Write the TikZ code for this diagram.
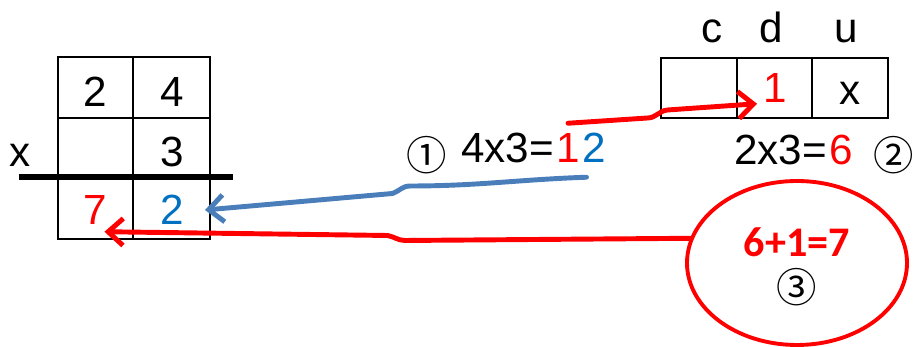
\documentclass[tikz,border=0pt]{standalone}
\usepackage{fontspec}
\setmainfont{Liberation Sans}
\newfontfamily\symfont{Noto Sans CJK SC}
\newfontfamily\sumfont{Carlito}
\usepackage{tikz}
\usetikzlibrary{arrows.meta,positioning,shapes.geometric}
\definecolor{redx}{HTML}{FF0000}
\definecolor{bluex}{HTML}{0070C0}
\definecolor{arrowblue}{HTML}{4A7EBB}
\tikzset{
  cell/.style={line width=1pt,black},
  dig/.style={font=\fontsize{24}{28}\selectfont,inner sep=0.5pt},
  circnum/.style={font=\symfont\fontsize{23}{26}\selectfont,inner sep=0pt},
  ar/.style={-{Straight Barb[length=3mm,width=5.4mm]},line width=2.8pt,line cap=round}
}

\begin{document}
\begin{tikzpicture}
\useasboundingbox (0,0) rectangle (18.3,6.94);
% left grid
\draw[cell] (1.16,2.16) rectangle (4.20,5.80);
\draw[cell] (2.66,2.16) -- (2.66,5.80) (1.16,4.58) -- (4.20,4.58);
\draw[line width=3.2pt] (0.38,3.40) -- (4.66,3.40);
\node[dig] (top2) at (1.90,5.10) {2};
\node[dig] (top4) at (3.44,5.10) {4};
\node[dig] (mid3) at (3.44,3.90) {3};
\node[dig] (times) at (0.40,3.84) {x};
\node[dig,redx] (seven) at (1.90,2.74) {7};
\node[dig,bluex] (blue2) at (3.44,2.74) {2};
% right grid
\draw[cell] (13.22,4.58) rectangle (17.76,5.78);
\draw[cell] (14.74,4.58) -- (14.74,5.78) (16.24,4.58) -- (16.24,5.78);
\node[dig,anchor=base] (colc) at (14.24,6.08) {c};
\node[dig,anchor=base] (cold) at (15.42,6.08) {d};
\node[dig,anchor=base] (colu) at (16.92,6.08) {u};
\node[dig,redx] (carry) at (15.50,5.18) {1};
\node[dig] (ucell) at (17.00,5.08) {x};
% step 1
\node[circnum] (step1) at (8.54,3.84) {①};
\node[dig,anchor=base west] (prod1) at (9.20,3.68) {4x3=};
\node[dig,redx,base right=0pt of prod1] (one) {1};
\node[dig,bluex,base right=0pt of one] (two) {2};
% step 2
\node[dig,anchor=base west] (prod2) at (14.66,3.64) {2x3=};
\node[dig,redx,base right=0pt of prod2] (six) {6};
\node[circnum] (step2) at (17.88,3.84) {②};
% step 3
\node[draw=redx,line width=2.2pt,ellipse,minimum width=4.4cm,minimum height=3.28cm] (sum) at (15.94,1.68) {};
\node[font=\sumfont\bfseries\fontsize{24}{28}\selectfont,redx] (sumtxt) at (15.94,2.10) {6+1=7};
\node[circnum] (step3) at (15.94,1.20) {③};
% arrows
\draw[ar,redx] ([yshift=0.19cm]one.north) -- (12.95,4.58) to[out=0,in=185] (13.35,4.74) -- ([xshift=-0.1cm]carry.south west);
\draw[ar,arrowblue] ([shift={(-0.15,-0.26)}]two.south) to[out=182,in=0] (8.2,3.22) to[out=180,in=20] (7.85,3.07) -- ([xshift=0.4cm]blue2.east);
\draw[ar,redx] (sum.167) -- (8.1,2.13) to[out=180,in=-10] (7.75,2.23) -- ([shift={(-0.07,-0.12)}]seven.south east);
\end{tikzpicture}
\end{document}
